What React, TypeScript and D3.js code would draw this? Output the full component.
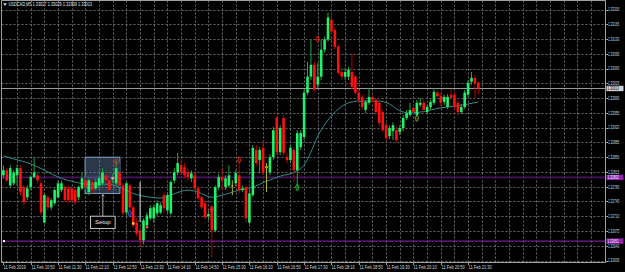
import React from "react";
import * as d3 from "d3";

// ---------- data (USDCAD, M5, 11 Feb 2019, bars from 10:10 to 21:45) ----------
const symbol = "USDCAD,M5";
const opens = [
  1.32807,1.32819,1.32783,1.32788,1.32807,1.32824,1.32779,1.32755,1.32779,1.32803,
  1.32807,1.32788,1.32695,1.32755,1.32731,1.32741,1.32755,1.32772,1.32779,1.32776,
  1.32776,1.32772,1.32755,1.32776,1.32795,1.32767,1.32791,1.32776,1.32783,1.32788,
  1.32807,1.32795,1.32798,1.32788,1.32814,1.32783,1.32719,1.32783,1.32731,1.32695,
  1.32676,1.32653,1.32688,1.32705,1.32705,1.32717,1.32719,1.32760,1.32724,1.32717,
  1.32795,1.32814,1.32831,1.32826,1.32814,1.32800,1.32807,1.32776,1.32755,1.32741,
  1.32710,1.32731,1.32676,1.32779,1.32803,1.32779,1.32783,1.32781,1.32788,1.32807,
  1.32772,1.32779,1.32695,1.32760,1.32867,1.32843,1.32872,1.32824,1.32814,1.32850,
  1.32943,1.32862,1.32943,1.32850,1.32843,1.32867,1.32819,1.32874,1.32898,1.33003,
  1.33041,1.33069,1.33022,1.33041,1.33105,1.33129,1.33176,1.33152,1.33112,1.33052,
  1.33041,1.33041,1.33052,1.33041,1.33003,1.32993,1.32962,1.32979,1.32993,1.32986,
  1.32979,1.32957,1.32926,1.32900,1.32912,1.32914,1.32910,1.32919,1.32943,1.32950,
  1.32967,1.32950,1.32974,1.32979,1.32957,1.32969,1.32979,1.33003,1.32995,1.32981,
  1.32969,1.32998,1.32998,1.32979,1.32957,1.32969,1.32998,1.33029,1.33038,1.33027,
];
const highs = [
  1.32831,1.32824,1.32831,1.32819,1.32831,1.32831,1.32783,1.32783,1.32807,1.32848,
  1.32814,1.32795,1.32764,1.32760,1.32753,1.32776,1.32795,1.32795,1.32783,1.32783,
  1.32781,1.32776,1.32783,1.32814,1.32803,1.32800,1.32795,1.32800,1.32807,1.32824,
  1.32814,1.32803,1.32810,1.32843,1.32838,1.32788,1.32791,1.32788,1.32736,1.32705,
  1.32688,1.32705,1.32719,1.32736,1.32736,1.32748,1.32743,1.32767,1.32767,1.32795,
  1.32824,1.32860,1.32848,1.32836,1.32824,1.32819,1.32814,1.32781,1.32760,1.32748,
  1.32724,1.32736,1.32783,1.32810,1.32824,1.32807,1.32831,1.32795,1.32819,1.32843,
  1.32783,1.32783,1.32772,1.32879,1.32879,1.32874,1.32891,1.32836,1.32857,1.32922,
  1.32948,1.32926,1.32950,1.32860,1.32879,1.32874,1.32914,1.32914,1.33010,1.33076,
  1.33129,1.33076,1.33074,1.33129,1.33136,1.33193,1.33193,1.33157,1.33117,1.33062,
  1.33062,1.33064,1.33098,1.33045,1.33010,1.32998,1.32986,1.33014,1.32998,1.32991,
  1.32986,1.32962,1.32933,1.32926,1.32933,1.32922,1.32926,1.32950,1.32962,1.32979,
  1.32974,1.32986,1.32991,1.32986,1.32974,1.32986,1.33014,1.33010,1.33003,1.32998,
  1.33000,1.33012,1.33003,1.32986,1.32976,1.33010,1.33033,1.33052,1.33045,1.33029,
];
const lows = [
  1.32800,1.32791,1.32779,1.32783,1.32783,1.32760,1.32736,1.32748,1.32772,1.32800,
  1.32788,1.32712,1.32693,1.32724,1.32724,1.32736,1.32753,1.32767,1.32743,1.32741,
  1.32743,1.32736,1.32748,1.32772,1.32772,1.32760,1.32764,1.32772,1.32776,1.32783,
  1.32788,1.32767,1.32788,1.32783,1.32779,1.32712,1.32712,1.32724,1.32681,1.32662,
  1.32638,1.32643,1.32681,1.32700,1.32695,1.32710,1.32715,1.32719,1.32719,1.32712,
  1.32788,1.32807,1.32807,1.32800,1.32795,1.32791,1.32772,1.32748,1.32726,1.32703,
  1.32700,1.32612,1.32672,1.32772,1.32772,1.32772,1.32779,1.32760,1.32781,1.32764,
  1.32767,1.32695,1.32691,1.32755,1.32829,1.32812,1.32807,1.32767,1.32807,1.32843,
  1.32855,1.32855,1.32853,1.32836,1.32836,1.32791,1.32779,1.32867,1.32891,1.32998,
  1.33033,1.33003,1.33014,1.33033,1.33098,1.33124,1.33140,1.33105,1.33045,1.33033,
  1.33033,1.33033,1.33010,1.32998,1.32979,1.32962,1.32955,1.32974,1.32979,1.32950,
  1.32924,1.32910,1.32888,1.32893,1.32891,1.32886,1.32903,1.32912,1.32938,1.32945,
  1.32950,1.32945,1.32969,1.32955,1.32952,1.32962,1.32974,1.32991,1.32972,1.32974,
  1.32964,1.32986,1.32962,1.32950,1.32952,1.32964,1.32993,1.33022,1.32991,1.32999,
];
const closes = [
  1.32819,1.32795,1.32824,1.32814,1.32824,1.32767,1.32743,1.32776,1.32803,1.32814,
  1.32795,1.32719,1.32760,1.32731,1.32748,1.32772,1.32788,1.32788,1.32748,1.32748,
  1.32748,1.32743,1.32779,1.32800,1.32779,1.32795,1.32772,1.32791,1.32800,1.32814,
  1.32795,1.32772,1.32803,1.32824,1.32783,1.32717,1.32788,1.32731,1.32688,1.32669,
  1.32653,1.32700,1.32712,1.32729,1.32731,1.32741,1.32736,1.32729,1.32760,1.32791,
  1.32814,1.32836,1.32814,1.32807,1.32803,1.32812,1.32776,1.32753,1.32731,1.32707,
  1.32715,1.32676,1.32779,1.32803,1.32795,1.32800,1.32807,1.32783,1.32812,1.32772,
  1.32776,1.32705,1.32764,1.32872,1.32836,1.32867,1.32814,1.32829,1.32850,1.32914,
  1.32862,1.32919,1.32860,1.32843,1.32872,1.32819,1.32907,1.32907,1.33003,1.33041,
  1.33069,1.33010,1.33041,1.33105,1.33129,1.33181,1.33148,1.33112,1.33050,1.33041,
  1.33052,1.33057,1.33017,1.33003,1.32986,1.32969,1.32981,1.32993,1.32986,1.32957,
  1.32931,1.32914,1.32895,1.32919,1.32926,1.32891,1.32919,1.32943,1.32955,1.32962,
  1.32957,1.32979,1.32979,1.32962,1.32969,1.32981,1.33005,1.32995,1.32979,1.32993,
  1.32993,1.32991,1.32969,1.32957,1.32969,1.33003,1.33026,1.33038,1.33026,1.33013,
];
const dojiBars = [67, 77];

// moving average (at sample bars)
const maBars = [0,3,8,12,16,21,25,30,34,38,43,46,49,52,54,57,61,65,69,73,77,81,85,88,90,92,95,98,101,104,110,113,116,119,122,128,133,139];
const maValues = [
  1.32853,1.32846,1.32834,1.32819,1.32803,1.32791,1.32786,1.32786,1.32779,1.32764,
  1.32755,1.32753,1.32760,1.32769,1.32772,1.32767,1.32755,1.32762,1.32772,1.32779,
  1.32793,1.32805,1.32814,1.32831,1.32862,1.32900,1.32938,1.32964,1.32979,1.32983,
  1.32983,1.32976,1.32960,1.32955,1.32957,1.32967,1.32972,1.32981,
];

const priceTicks = [1.33200,1.33165,1.33130,1.33095,1.33060,1.33025,1.32990,1.32955,1.32920,1.32885,1.32850,1.32815,1.32780,1.32745,1.32710,1.32675,1.32640,1.32605];
const timeLabels = ["11 Feb 2019","11 Feb 10:50","11 Feb 11:30","11 Feb 12:10","11 Feb 12:50","11 Feb 13:30","11 Feb 14:10","11 Feb 14:50","11 Feb 15:30","11 Feb 16:10","11 Feb 16:50","11 Feb 17:30","11 Feb 18:10","11 Feb 18:50","11 Feb 19:30","11 Feb 20:10","11 Feb 20:50","11 Feb 21:30"];
const barsPerLabel = 8;
const barsPerGrid = 4;
const totalSlots = 176;

const bidPrice = 1.33013;
const levelPrices = [1.32802, 1.32651];

const signalBars = [92, 69, 61, 33, 86, 121, 37];
const signalPrices = [1.33129, 1.32843, 1.32726, 1.32838, 1.32779, 1.32943, 1.32717];
const signalKinds = ["sell","sell","sell","sell","buy","alert","entry"];
const dotBars = [32, 38, 42];
const dotPrices = [1.32800, 1.32693, 1.32684];
const dotKinds = ["pink","yellow","red"];

const setupZone = { from: 23.9, to: 34.1, top: 1.32850, bottom: 1.32764 };
const setupNote = { from: 25.5, to: 32.7, top: 1.32710, bottom: 1.32681, text: "Setup" };
const markLine = { bar: 40, top: 1.32791, bottom: 1.32700 };

// ---------- styles ----------
const BG = "#000000";
const BULL = "#1cf26a";
const BEAR = "#ff1010";
const BULL_WICK = "#21a83a";
const BEAR_WICK = "#b00000";
const GRID = "#6a6a6a";
const AXIS = "#a0a0a0";
const TEXT = "#d8d8d8";
const MA_COLOR = "#2f8c89";
const FONT = "'Liberation Sans', Arial, sans-serif";
const signalColor: Record<string, string> = { sell: "#e02020", buy: "#2ec02e", alert: "#8aa020", entry: "#3a70ff" };
const dotColor: Record<string, string> = { pink: "#ff8fb0", yellow: "#f0e040", red: "#ff5050" };

function CText(props: { x: number; y: number; sx: number; size: number; fill: string; children: string }) {
  const { x, y, sx, size, fill, children } = props;
  return (
    <text transform={`translate(${x},${y}) scale(${sx},1)`} fontFamily={FONT} fontSize={size} fill={fill}>
      {children}
    </text>
  );
}

export default function App() {
  const plotL = 1.5, plotR = 605.5, plotT = 0.5, plotB = 262.5;
  const n = closes.length;
  const x = d3.scaleLinear().domain([0, n - 1]).range([3.4, 3.4 + 3.417 * (n - 1)]);
  const y = d3.scaleLinear().domain([1.32605, 1.33200]).range([260.5, 9.6]);
  const bw = 2.6;

  const vGrid: number[] = [];
  for (let i = barsPerGrid; i <= totalSlots; i += barsPerGrid) vGrid.push(i);

  const maLine = d3.line<number>()
    .x((_, k) => x(maBars[k]))
    .y((v) => y(v))
    .curve(d3.curveMonotoneX);

  const fmt = d3.format(".5f");
  const last = n - 1;
  const header = `${symbol}  ${fmt(opens[last])} ${fmt(highs[last])} ${fmt(lows[last])} ${fmt(closes[last])}`;

  const arrow = (cx: number, cy: number, dir: string) => {
    const s = dir === "down" ? 1 : -1;
    const pts = [
      [cx - 1, cy - 3 * s], [cx + 1, cy - 3 * s], [cx + 1, cy], [cx + 2, cy],
      [cx, cy + 3 * s], [cx - 2, cy], [cx - 1, cy],
    ];
    return "M" + pts.map((p) => p.join(",")).join("L") + "Z";
  };

  return (
    <>
      <style>{`body{margin:0;background:#000;overflow:hidden}`}</style>
      <svg width={625} height={272} style={{ display: "block", background: BG }}>
        <rect x={0} y={0} width={625} height={272} fill={BG} />
        {/* grid */}
        <g stroke={GRID} strokeWidth={1} strokeDasharray="2,2">
          {priceTicks.map((p) => (
            <line key={"h" + p} x1={plotL} x2={plotR} y1={Math.round(y(p)) + 0.5} y2={Math.round(y(p)) + 0.5} />
          ))}
          {vGrid.map((i) => (
            <line key={"v" + i} x1={Math.round(x(i)) + 0.5} x2={Math.round(x(i)) + 0.5} y1={plotT} y2={plotB} />
          ))}
        </g>

        {/* horizontal levels */}
        <line x1={plotL} x2={plotR} y1={y(levelPrices[0])} y2={y(levelPrices[0])} stroke="#4a1260" strokeWidth={1.8} />
        <line x1={plotL} x2={plotR} y1={y(levelPrices[1])} y2={y(levelPrices[1])} stroke="#7a1c9a" strokeWidth={1.2} />
        <rect x={3} y={y(levelPrices[1]) - 1} width={2} height={2} fill="#ffffff" />
        <line x1={plotL} x2={plotR} y1={Math.round(y(bidPrice)) + 0.5} y2={Math.round(y(bidPrice)) + 0.5} stroke="#9a9a9a" strokeWidth={1} />

        {/* setup zone */}
        <rect x={x(setupZone.from)} y={y(setupZone.top)} width={x(setupZone.to) - x(setupZone.from)}
          height={y(setupZone.bottom) - y(setupZone.top)} fill="rgba(95,125,165,0.45)" stroke="#7c9cc2" strokeWidth={1} />

        {/* MA */}
        <path d={maLine(maValues) || ""} fill="none" stroke={MA_COLOR} strokeWidth={1} />

        {/* candles */}
        <g>
          {closes.map((c, i) => {
            const o = opens[i];
            const bull = c >= o;
            const doji = dojiBars.includes(i);
            const cx = x(i);
            const top = y(Math.max(o, c));
            const bot = y(Math.min(o, c));
            return (
              <g key={i}>
                <line x1={cx} x2={cx} y1={y(highs[i])} y2={y(lows[i])}
                  stroke={doji ? "#b5b520" : bull ? BULL_WICK : BEAR_WICK} strokeWidth={1} />
                <rect x={cx - bw / 2} y={top} width={bw} height={Math.max(0.9, bot - top)}
                  fill={doji ? "#b5b520" : bull ? BULL : BEAR} />
              </g>
            );
          })}
        </g>

        {/* annotation vertical line */}
        <line x1={x(markLine.bar)} x2={x(markLine.bar)} y1={y(markLine.top)} y2={y(markLine.bottom)} stroke="#d8d8d8" strokeWidth={1} />
        <path d={`M${x(markLine.bar) - 1.5},${y(markLine.bottom) + 1.5}L${x(markLine.bar)},${y(markLine.bottom)}L${x(markLine.bar) + 1.5},${y(markLine.bottom) + 1.5}`} fill="none" stroke="#d8d8d8" strokeWidth={0.8} />

        {/* signals */}
        {signalBars.map((b, k) => (
          <path key={"s" + k} d={arrow(x(b), y(signalPrices[k]), signalKinds[k] === "sell" ? "down" : "up")}
            fill="none" stroke={signalColor[signalKinds[k]]} strokeWidth={0.9} />
        ))}
        {dotBars.map((b, k) => (
          <circle key={"d" + k} cx={x(b)} cy={y(dotPrices[k])} r={1.3} fill={dotColor[dotKinds[k]]} />
        ))}

        {/* setup note */}
        {(() => {
          const cx = (x(setupNote.from) + x(setupNote.to)) / 2;
          const bt = y(setupNote.top), bb = y(setupNote.bottom);
          const zb = y(setupZone.bottom);
          return (
            <g>
              <line x1={cx} x2={cx} y1={zb + 1} y2={bt} stroke="#a8a8a8" strokeWidth={1} />
              <path d={`M${cx - 1.5},${zb + 3}L${cx},${zb + 1.2}L${cx + 1.5},${zb + 3}`} fill="none" stroke="#c8c8c8" strokeWidth={0.8} />
              <rect x={x(setupNote.from)} y={bt} width={x(setupNote.to) - x(setupNote.from)} height={bb - bt}
                fill="#000" stroke="#c8c8c8" strokeWidth={1} />
              <text x={cx} y={(bt + bb) / 2 + 2} textAnchor="middle" fontFamily={FONT} fontSize={6} fill="#e8e8e8">{setupNote.text}</text>
            </g>
          );
        })()}

        {/* frame */}
        <line x1={plotL} x2={plotL} y1={plotT} y2={plotB} stroke={AXIS} strokeWidth={1} />
        <line x1={plotL} x2={plotR} y1={plotT} y2={plotT} stroke={AXIS} strokeWidth={1} />
        <line x1={plotR} x2={plotR} y1={plotT} y2={plotB} stroke={AXIS} strokeWidth={1} />
        <line x1={plotL} x2={plotR} y1={plotB} y2={plotB} stroke={AXIS} strokeWidth={1} />

        {/* price axis */}
        {priceTicks.map((p) => (
          <g key={"pt" + p}>
            <line x1={plotR} x2={plotR + 2.5} y1={Math.round(y(p)) + 0.5} y2={Math.round(y(p)) + 0.5} stroke={AXIS} />
            <CText x={608} y={y(p) + 1.8} sx={0.6} size={5.2} fill={TEXT}>{fmt(p)}</CText>
          </g>
        ))}
        {/* level labels */}
        <rect x={plotR + 1} y={y(bidPrice) - 2.7} width={17} height={5.4} fill="#d0d0d0" />
        <CText x={607.5} y={y(bidPrice) + 1.8} sx={0.6} size={5.2} fill="#000">{fmt(bidPrice)}</CText>
        {levelPrices.map((p) => (
          <g key={"lv" + p}>
            <rect x={plotR + 1} y={y(p) - 2.7} width={17} height={5.4} fill="#8e24b0" />
            <CText x={607.5} y={y(p) + 1.8} sx={0.6} size={5.2} fill="#f0f0f0">{fmt(p)}</CText>
          </g>
        ))}

        {/* time axis */}
        {timeLabels.map((t, k) => {
          const xi = Math.round(x(k * barsPerLabel)) + 0.5;
          return (
            <g key={"t" + k}>
              <line x1={xi} x2={xi} y1={plotB} y2={plotB + 2.5} stroke={AXIS} />
              <CText x={xi} y={268.8} sx={0.8} size={5} fill={TEXT}>{t}</CText>
            </g>
          );
        })}

        {/* header */}
        <path d="M3,3.2L7,3.2L5,5.8Z" fill="#e0e0e0" />
        <CText x={8.5} y={6.2} sx={0.85} size={4.6} fill="#e8e8e8">{header}</CText>
      </svg>
    </>
  );
}
